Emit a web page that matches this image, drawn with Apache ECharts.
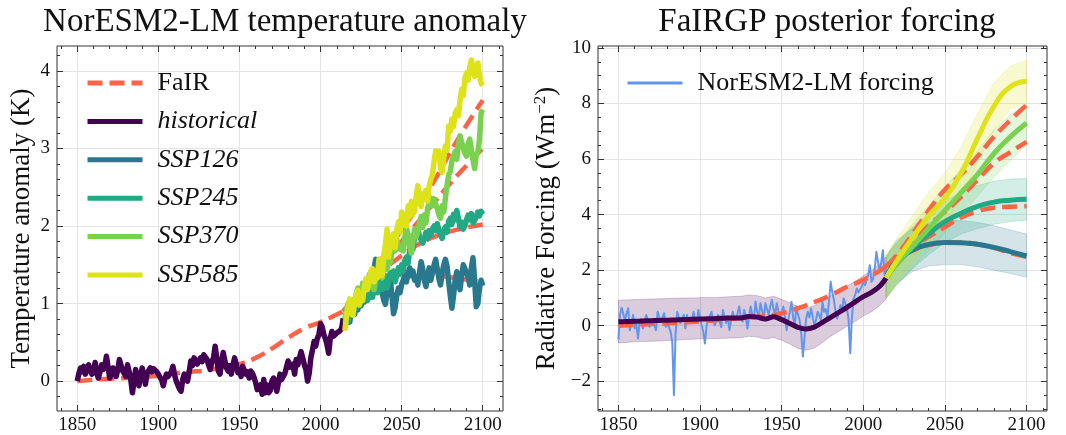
<!DOCTYPE html>
<html><head><meta charset="utf-8">
<script src="https://cdn.jsdelivr.net/npm/echarts@6/dist/echarts.min.js"></script>
<style>html,body{margin:0;padding:0;background:#fff}#c{width:1066px;height:435px}</style>
</head><body><div id="c"></div>
<script>
// ---------------- DATA ----------------
// Left panel: NorESM2-LM temperature anomaly (K)
const histStart = 1850;            // annual values 1850..2014
const histT = [
 0.0, 0.1, 0.17, 0.12, 0.19, 0.09, 0.15, 0.21, 0.14, 0.09,
 0.12, 0.24, 0.1, 0.04, 0.12, 0.21, 0.15, 0.2, 0.32, 0.18,
 0.04, 0.1, 0.17, 0.12, 0.06, 0.15, 0.28, 0.2, 0.13, 0.1,
 0.06, 0.21, 0.12, 0.02, -0.15, 0.0, 0.15, 0.05, -0.06, 0.05,
 0.17, 0.08, -0.04, 0.1, 0.12, 0.17, 0.12, 0.16, 0.15, 0.12,
 0.09, 0.05, 0.02, -0.06, 0.03, 0.09, 0.06, 0.04, 0.12, 0.19,
 0.08, 0.0, -0.05, -0.1, -0.13, 0.02, 0.09, 0.05, 0.0, 0.12,
 0.26, 0.2, 0.3, 0.28, 0.22, 0.24, 0.3, 0.25, 0.34, 0.36,
 0.28, 0.21, 0.15, 0.25, 0.3, 0.45, 0.3, 0.13, 0.09, 0.25,
 0.37, 0.26, 0.17, 0.13, 0.2, 0.09, 0.21, 0.3, 0.22, 0.11,
 0.15, 0.06, 0.19, 0.17, 0.09, 0.12, 0.04, 0.13, 0.1, 0.05,
 -0.02, -0.11, -0.13, -0.05, -0.17, 0.02, -0.15, -0.05, -0.15, -0.12,
 0.0, 0.04, -0.04, -0.13, -0.02, 0.09, 0.02, 0.0, 0.1, 0.09,
 0.26, 0.18, 0.17, 0.22, 0.09, 0.28, 0.21, 0.3, 0.38, 0.3,
 0.21, 0.15, 0.0, 0.1, 0.3, 0.4, 0.51, 0.45, 0.55, 0.6,
 0.74, 0.7, 0.6, 0.55, 0.47, 0.36, 0.55, 0.64, 0.58, 0.6,
 0.62, 0.6, 0.65, 0.68, 0.81
];
const sspStart = 2015;             // annual values 2015..2100
const ssp126T = [
 0.75, 0.82, 0.86, 0.76, 0.9,
 0.96, 0.86, 1.0, 0.92, 1.05, 0.97, 1.1, 1.02, 1.16, 1.06,
 1.2, 1.1, 1.3, 1.45, 1.57, 1.5, 1.3, 1.2, 1.14, 1.04,
 0.99, 1.15, 1.25, 1.33, 1.1, 0.87, 0.95, 1.1, 1.2, 1.14,
 1.25, 1.3, 1.37, 1.28, 1.4, 1.46, 1.36, 1.42, 1.3, 1.34,
 1.24, 1.4, 1.54, 1.44, 1.3, 1.22, 1.36, 1.46, 1.3, 1.4,
 1.5, 1.57, 1.44, 1.32, 1.24, 1.4, 1.5, 1.57, 1.48, 1.28,
 1.1, 0.94, 1.1, 1.3, 1.41, 1.28, 1.18, 1.35, 1.5, 1.52,
 1.4, 1.34, 1.24, 1.46, 1.59, 1.3, 0.96, 1.0, 1.2, 1.3,
 1.23
];
const ssp245T = [
 0.8, 0.86, 0.76, 0.9, 0.96,
 0.88, 1.0, 0.94, 1.06, 0.98, 1.1, 1.02, 1.08, 1.16, 1.04,
 1.12, 1.2, 1.08, 1.18, 1.26, 1.14, 1.22, 1.3, 1.18, 1.25,
 1.36, 1.2, 1.28, 1.4, 1.34, 1.42, 1.28, 1.37, 1.46, 1.38,
 1.5, 1.42, 1.56, 1.6, 1.52, 1.7, 1.8, 1.7, 1.86, 1.9,
 1.97, 1.86, 1.84, 1.78, 1.84, 1.92, 1.84, 1.94, 1.88, 1.96,
 2.0, 1.94, 2.03, 1.95, 1.88, 1.84, 1.94, 1.99, 1.92, 2.06,
 2.1, 2.02, 2.15, 2.08, 2.2, 2.1, 1.98, 2.05, 1.96, 2.0,
 2.08, 2.14, 2.08, 2.16, 2.04, 2.07, 2.12, 2.18, 2.13, 2.19,
 2.15
];
const ssp370T = [
 0.8, 0.92, 1.0, 0.86, 0.95,
 1.05, 0.98, 1.12, 1.2, 1.06, 1.15, 1.26, 1.16, 1.3, 1.2,
 1.37, 1.28, 1.22, 1.18, 1.32, 1.4, 1.46, 1.38, 1.33, 1.48,
 1.52, 1.44, 1.56, 1.53, 1.66, 1.76, 1.68, 1.83, 1.76, 1.7,
 1.72, 1.68, 1.86, 1.97, 1.88, 1.74, 1.65, 1.82, 1.96, 1.86,
 1.93, 2.04, 2.12, 1.98, 2.14, 2.04, 2.22, 2.3, 2.36, 2.26,
 2.35, 2.28, 2.22, 2.14, 2.1, 2.26, 2.18, 2.36, 2.52, 2.66,
 2.7, 2.84, 2.9, 2.96, 2.86, 3.05, 3.16, 3.08, 3.1, 2.94,
 2.9, 3.06, 3.12, 2.98, 2.85, 2.74, 2.92, 2.95, 3.12, 3.46,
 3.5
];
const ssp585T = [
 0.65, 0.85, 0.95, 1.06, 0.88,
 0.85, 1.02, 1.12, 1.17, 0.98, 1.12, 1.04, 1.22, 1.32, 1.18,
 1.3, 1.42, 1.45, 1.28, 1.4, 1.33, 1.57, 1.48, 1.36, 1.62,
 1.76, 1.96, 1.6, 1.74, 1.83, 1.9, 1.72, 1.95, 2.05, 1.92,
 2.18, 2.02, 2.14, 2.0, 2.26, 2.12, 2.32, 2.15, 2.2, 2.38,
 2.52, 2.36, 2.25, 2.42, 2.35, 2.46, 2.32, 2.52, 2.6, 2.66,
 2.84, 2.97, 2.88, 2.96, 2.74, 2.69, 2.88, 3.03, 2.98, 3.29,
 3.22, 3.38, 3.28, 3.45, 3.5, 3.42, 3.62, 3.76, 3.68, 3.9,
 3.97, 3.88, 4.05, 4.14, 4.02, 3.93, 4.05, 4.1, 3.95, 3.84,
 3.81
];
// FaIR temperature (dashed)
const fairHistYears = [1850,1860,1870,1880,1890,1900,1910,1920,1930,1940,1950,1960,1970,1980,1990,2000,2010,2014];
const fairHistT     = [0.0,0.02,0.03,0.04,0.05,0.07,0.1,0.12,0.14,0.18,0.22,0.3,0.42,0.56,0.68,0.76,0.86,0.9];
const fairSspYears  = [2014,2020,2030,2040,2050,2060,2070,2080,2090,2100];
const fair126T = [0.9,1.02,1.2,1.32,1.38,1.39,1.37,1.34,1.31,1.28];
const fair245T = [0.9,1.03,1.25,1.45,1.62,1.76,1.86,1.93,1.98,2.02];
const fair370T = [0.9,1.05,1.3,1.55,1.8,2.05,2.3,2.55,2.78,3.0];
const fair585T = [0.9,1.05,1.35,1.65,1.95,2.25,2.58,2.95,3.3,3.62];

// Right panel: forcing (W m^-2)
const noresmF = [
 -0.5, 0.4, 0.65, 0.69, 0.2, 0.45, 0.63, -0.16, 0.1, 0.39,
 -0.1, 0.05, -0.46, 0.14, 0.25, -0.1, 0.1, 0.39, 0.2, -0.04,
 0.1, 0.2, 0.0, -0.16, 0.5, 0.3, 0.14, 0.3, 0.45, -0.04,
 0.1, 0.05, -0.22, -0.6, -2.5, -0.3, 0.5, 0.3, 0.08, 0.25,
 0.39, -0.1, 0.39, 0.1, 0.25, 0.15, 0.5, 0.2, 0.1, 0.57,
 0.3, 0.02, -0.22, -0.64, 0.0, 0.27, 0.35, 0.5, 0.2, 0.02,
 0.2, 0.39, 0.15, -0.05, 0.57, 0.3, 0.1, 0.33, -0.16, 0.2,
 0.5, 0.3, 0.2, 0.45, 0.69, 0.3, 0.15, 0.57, 0.35, -0.1,
 0.3, 0.69, 0.4, 0.25, 0.87, 0.5, 0.3, 0.81, 0.55, 0.2,
 0.81, 0.6, 0.4, 0.7, 0.93, 0.6, 0.4, 0.81, 0.5, 0.2,
 0.45, 0.69, 0.3, -0.16, 0.2, 0.5, 0.86, 0.3, 0.02, 0.69,
 0.4, 0.2, -0.28, -1.11, -0.4, 0.26, 0.5, 0.3, 0.62, 0.3,
 0.02, 0.2, 0.5, 0.38, 0.2, 0.86, 0.5, 0.6, 0.3, 0.9,
 1.58, 1.2, 0.92, 0.5, 0.26, 0.5, 0.74, 0.6, 0.98, 0.8,
 0.62, 0.2, -0.99, 0.3, 0.98, 1.1, 1.34, 1.2, 1.16, 1.4,
 1.58, 1.46, 1.5, 1.82, 2.18, 1.58, 1.7, 2.06, 2.66, 2.3,
 1.94, 2.3, 2.72, 1.82, 2.06
];
// FaIRGP posterior, historical (mean and band)
const postHistYears = [1850,1855,1860,1865,1870,1875,1880,1885,1890,1895,1900,1905,1910,1915,1920,1925,1930,1935,1940,1945,1950,1955,1960,1965,1970,1975,1980,1985,1990,1995,2000,2005,2010,2014];
const postHistMean = [0.14,0.15,0.16,0.17,0.18,0.19,0.2,0.21,0.22,0.23,0.24,0.25,0.26,0.27,0.28,0.28,0.33,0.31,0.24,0.32,0.22,0.08,-0.06,-0.12,-0.05,0.12,0.3,0.48,0.66,0.86,1.05,1.2,1.42,1.72];
const postHistLo   = [-0.62,-0.6,-0.58,-0.57,-0.56,-0.55,-0.53,-0.52,-0.5,-0.49,-0.47,-0.47,-0.46,-0.45,-0.44,-0.43,-0.38,-0.41,-0.48,-0.42,-0.52,-0.66,-0.82,-0.88,-0.8,-0.6,-0.38,-0.2,-0.02,0.16,0.35,0.5,0.72,0.98];
const postHistHi   = [0.92,0.93,0.94,0.95,0.96,0.97,0.98,0.99,1.0,1.0,1.01,1.02,1.02,1.03,1.05,1.06,1.11,1.08,1.0,1.06,0.95,0.82,0.7,0.62,0.72,0.88,1.08,1.25,1.42,1.6,1.8,1.98,2.22,2.48];
// FaIRGP posterior, scenarios
const postSspYears = [2014,2020,2030,2040,2050,2060,2070,2080,2090,2100];
const post126Mean = [1.72,2.3,2.72,2.93,3.0,2.99,2.93,2.82,2.67,2.51];
const post126Lo   = [1.0,1.5,1.95,2.15,2.2,2.2,2.12,2.0,1.88,1.75];
const post126Hi   = [2.5,3.05,3.5,3.7,3.8,3.78,3.72,3.6,3.45,3.3];
const post245Mean = [1.72,2.2,2.8,3.3,3.75,4.05,4.3,4.45,4.52,4.55];
const post245Lo   = [1.0,1.45,2.05,2.55,3.0,3.3,3.5,3.65,3.75,3.8];
const post245Hi   = [2.5,2.95,3.55,4.05,4.5,4.8,5.05,5.2,5.28,5.3];
const post370Mean = [1.72,2.2,2.85,3.5,4.15,4.8,5.45,6.2,6.8,7.3];
const post370Lo   = [1.0,1.4,2.05,2.7,3.35,4.0,4.65,5.35,5.95,6.5];
const post370Hi   = [2.5,2.95,3.65,4.3,5.0,5.65,6.3,7.05,7.6,8.0];
const post585Mean = [1.72,2.3,3.15,3.95,4.6,5.5,6.75,7.9,8.6,8.8];
const post585Lo   = [1.0,1.5,2.3,3.05,3.7,4.6,5.85,7.05,7.8,8.05];
const post585Hi   = [2.55,3.1,3.95,4.8,5.5,6.45,7.65,8.75,9.35,9.55];
// FaIR forcing (dashed)
const fairFHistYears = [1850,1860,1870,1880,1890,1900,1910,1920,1930,1940,1950,1960,1970,1980,1990,2000,2010,2014];
const fairFHist      = [0.0,0.03,0.06,0.09,0.12,0.15,0.2,0.25,0.3,0.35,0.45,0.63,0.85,1.1,1.4,1.65,1.98,2.15];
const fairF126 = [2.15,2.4,2.7,2.9,2.98,3.0,2.93,2.8,2.62,2.48];
const fairF245 = [2.15,2.4,2.85,3.2,3.55,3.9,4.12,4.25,4.28,4.3];
const fairF370 = [2.15,2.45,3.0,3.6,4.1,4.65,5.25,5.85,6.25,6.62];
const fairF585 = [2.15,2.5,3.3,4.15,4.9,5.45,6.1,6.8,7.4,7.95];

// Tick values
const xMajor = [1850,1900,1950,2000,2050,2100];
const xMinorT = [1840,1860,1870,1880,1890,1910,1920,1930,1940,1960,1970,1980,1990,2010,2020,2030,2040,2060,2070,2080,2090,2110];
const yMajorL = [0,1,2,3,4];
const yMinorL = [-0.2,0.2,0.4,0.6,0.8,1.2,1.4,1.6,1.8,2.2,2.4,2.6,2.8,3.2,3.4,3.6,3.8,4.2];
const yMajorR = [-2,0,2,4,6,8,10];
const yMinorR = [-3,-2.5,-1.5,-1,-0.5,0.5,1,1.5,2.5,3,3.5,4.5,5,5.5,6.5,7,7.5,8.5,9,9.5];

const names = ['historical','SSP126','SSP245','SSP370','SSP585'];
const colors = ['#440154','#2a788e','#22a884','#7ad151','#dde318'];
const bandFill = ['rgba(68,1,84,0.2)','rgba(42,120,142,0.2)','rgba(34,168,132,0.2)','rgba(122,209,81,0.2)','rgba(221,227,24,0.2)'];
const FAIR = '#ff6347';
const BLUE = '#6495ed';

if (histT.length!==165||noresmF.length!==165) throw new Error('hist len '+histT.length+' '+noresmF.length);
[ssp126T,ssp245T,ssp370T,ssp585T].forEach((a,i)=>{ if(a.length!==86) throw new Error('ssp len '+i+' '+a.length); });

// ---------------- CHART ----------------
const FONT = 'Liberation Serif';
const TICK = '#333';
const annual = (start, arr) => arr.map((v,i)=>[start+i, v]);
const pairs = (xs, ys) => xs.map((x,i)=>[x, ys[i]]);
const minus = v => String(v).replace('-', '\u2212');
const plain = v => String(v);

function axes(grid, xr, yr, yMaj, yMin, yName, yNameGap) {
  const xs = [], ys = [];
  const bx = () => ({type:'value', gridIndex:grid, min:xr[0], max:xr[1], axisLine:{show:false, onZero:false},
      splitLine:{show:false}, axisLabel:{show:false}, axisTick:{show:false}});
  const by = () => ({type:'value', gridIndex:grid, min:yr[0], max:yr[1], axisLine:{show:false, onZero:false},
      splitLine:{show:false}, axisLabel:{show:false}, axisTick:{show:false}});
  xs.push(Object.assign(bx(), {position:'bottom',
    axisTick:{show:true, inside:true, length:6, customValues:xMajor, lineStyle:{color:TICK}},
    axisLabel:{show:true, customValues:xMajor, fontFamily:FONT, fontSize:19, color:'#111', margin:5, formatter:plain},
    splitLine:{show:true, lineStyle:{color:'#e4e4e4', width:1}}}));
  xs.push(Object.assign(bx(), {position:'bottom', axisTick:{show:true, inside:true, length:3, customValues:xMinorT, lineStyle:{color:TICK}}}));
  xs.push(Object.assign(bx(), {position:'top', axisTick:{show:true, inside:true, length:6, customValues:xMajor, lineStyle:{color:TICK}}}));
  xs.push(Object.assign(bx(), {position:'top', axisTick:{show:true, inside:true, length:3, customValues:xMinorT, lineStyle:{color:TICK}}}));
  ys.push(Object.assign(by(), {position:'left',
    axisTick:{show:true, inside:true, length:6, customValues:yMaj, lineStyle:{color:TICK}},
    axisLabel:{show:true, customValues:yMaj, fontFamily:FONT, fontSize:19, color:'#111', margin:7, formatter:minus},
    splitLine:{show:true, lineStyle:{color:'#e4e4e4', width:1}},
    name:yName, nameLocation:'middle', nameGap:yNameGap,
    nameTextStyle:{fontFamily:FONT, fontSize:27, color:'#111',
      rich:{n:{fontFamily:FONT, fontSize:27, color:'#111'}, sup:{fontFamily:FONT, fontSize:17, color:'#111', verticalAlign:'top', padding:[0,0,13,0]}}}}));
  ys.push(Object.assign(by(), {position:'left', axisTick:{show:true, inside:true, length:3, customValues:yMin, lineStyle:{color:TICK}}}));
  ys.push(Object.assign(by(), {position:'right', axisTick:{show:true, inside:true, length:6, customValues:yMaj, lineStyle:{color:TICK}}}));
  ys.push(Object.assign(by(), {position:'right', axisTick:{show:true, inside:true, length:3, customValues:yMin, lineStyle:{color:TICK}}}));
  return {xs, ys};
}
const A = axes(0, [1837.5, 2112.5], [-0.385, 4.32], yMajorL, yMinorL, 'Temperature anomaly (K)', 22);
const B = axes(1, [1837.5, 2112.5], [-3.07, 10.07], yMajorR, yMinorR, '{n|Radiative Forcing (Wm}{sup|\u22122}{n|)}', 36);

function line(name, data, color, width, axis, opts) {
  return Object.assign({type:'line', name, data, xAxisIndex:axis, yAxisIndex:axis, symbol:'none',
    showSymbol:false, z:3, lineStyle:{color, width, join:'round'}, itemStyle:{color}, silent:true}, opts||{});
}
function dashed(data, axis) {
  return line('FaIR', data, FAIR, 4.5, axis, {smooth:true, lineStyle:{color:FAIR, width:4.5, type:[15,7]}, z:2});
}
function band(yrs, lo, hi, fill) {
  return {type:'custom', xAxisIndex:4, yAxisIndex:4, silent:true, z:1, data:[0],
    renderItem:(p, api) => {
      const pts = [];
      for (let i=0;i<yrs.length;i++) pts.push(api.coord([yrs[i], hi[i]]));
      for (let i=yrs.length-1;i>=0;i--) pts.push(api.coord([yrs[i], lo[i]]));
      return {type:'polygon', shape:{points:pts}, style:{fill:fill, stroke:fill, lineWidth:1}};
    }};
}

const sspT = [ssp126T, ssp245T, ssp370T, ssp585T];
const fairT = [fair126T, fair245T, fair370T, fair585T];
const postM = [post126Mean, post245Mean, post370Mean, post585Mean];
const postL = [post126Lo, post245Lo, post370Lo, post585Lo];
const postH = [post126Hi, post245Hi, post370Hi, post585Hi];
const fairF = [fairF126, fairF245, fairF370, fairF585];

const series = [];
// left
series.push(dashed(pairs(fairHistYears, fairHistT), 0));
fairT.forEach(a => series.push(dashed(pairs(fairSspYears, a), 0)));
series.push(line('historical', annual(histStart, histT), colors[0], 5.5, 0));
sspT.forEach((a,i) => series.push(line(names[i+1], annual(sspStart, a), colors[i+1], 5.5, 0)));
// right
series.push(band(postHistYears, postHistLo, postHistHi, bandFill[0]));
postL.forEach((a,i) => series.push(band(postSspYears, a, postH[i], bandFill[i+1])));
series.push(line('NorESM2-LM forcing', annual(histStart, noresmF), BLUE, 2, 4, {z:2}));
series.push(dashed(pairs(fairFHistYears, fairFHist), 4));
fairF.forEach(a => series.push(dashed(pairs(postSspYears, a), 4)));
series.push(line('post-historical', pairs(postHistYears, postHistMean), colors[0], 5, 4, {smooth:0.3}));
postM.forEach((a,i) => series.push(line('post-'+names[i+1], pairs(postSspYears, a), colors[i+1], 5, 4, {smooth:true})));

const legText = {fontFamily:FONT, fontSize:26, color:'#111', lineHeight:26, padding:[0,0,0,10]};
const option = {
  animation:false,
  backgroundColor:'#fff',
  title:[
    {text:'NorESM2-LM temperature anomaly', left:280, top:1, textAlign:'center',
     textStyle:{fontFamily:FONT, fontSize:33, fontWeight:'normal', color:'#111'}},
    {text:'FaIRGP posterior forcing', left:822, top:1, textAlign:'center',
     textStyle:{fontFamily:FONT, fontSize:33, fontWeight:'normal', color:'#111'}}
  ],
  grid:[
    {left:57, top:46, width:446, height:367, show:true, borderColor:'#333', borderWidth:1, backgroundColor:'transparent'},
    {left:598, top:46, width:449, height:367, show:true, borderColor:'#333', borderWidth:1, backgroundColor:'transparent'}
  ],
  xAxis: A.xs.concat(B.xs),
  yAxis: A.ys.concat(B.ys),
  legend:[
    {orient:'vertical', left:80, top:65, itemWidth:55, itemHeight:4, itemGap:12.4, selectedMode:false,
     itemStyle:{opacity:0}, lineStyle:{width:5}, textStyle:legText,
     data:[{name:'FaIR'},
       {name:'historical', textStyle:{fontStyle:'italic'}},
       {name:'SSP126', textStyle:{fontStyle:'italic'}},
       {name:'SSP245', textStyle:{fontStyle:'italic'}},
       {name:'SSP370', textStyle:{fontStyle:'italic'}},
       {name:'SSP585', textStyle:{fontStyle:'italic'}}]},
    {orient:'vertical', left:621, top:65, itemWidth:55, itemHeight:4, selectedMode:false,
     itemStyle:{opacity:0}, lineStyle:{width:3}, textStyle:legText, data:[{name:'NorESM2-LM forcing'}]}
  ],
  series
};
const chart = echarts.init(document.getElementById('c'), null, {renderer:'canvas'});
chart.setOption(option);
</script></body></html>
